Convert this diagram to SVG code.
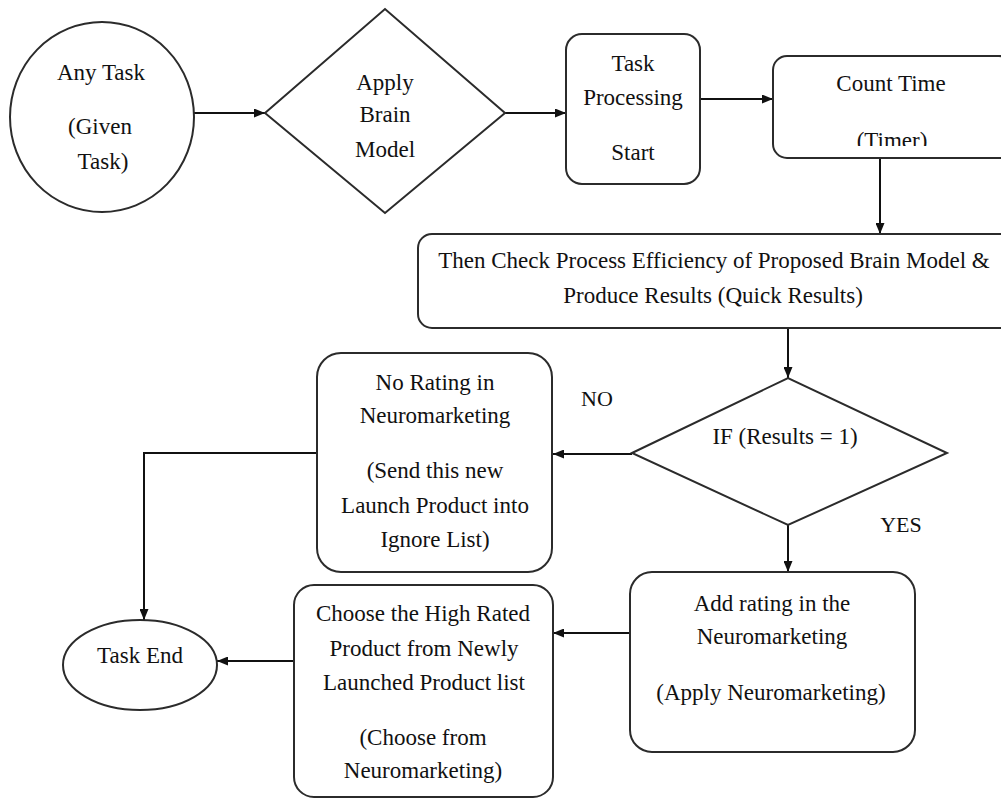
<svg xmlns="http://www.w3.org/2000/svg" width="1001" height="798" viewBox="0 0 1001 798">
<style>
  .shape { fill: #ffffff; stroke: #2b2b2b; stroke-width: 2; }
  .conn { fill: none; stroke: #111111; stroke-width: 2; }
  text { font-family: 'Liberation Serif', Tinos, 'Times New Roman', Times, 'DejaVu Serif', serif; font-size: 23px; fill: #111111; text-anchor: middle; }
  .lbl { font-size: 22px; }
</style>
<defs>
  <marker id="arrow" markerUnits="userSpaceOnUse" markerWidth="11" markerHeight="9" refX="11" refY="4.5" orient="auto">
    <path d="M0,0 L11,4.5 L0,9 z" fill="#111111"/>
  </marker>
  <clipPath id="timerClip"><rect x="773" y="0" width="240" height="146"/></clipPath>
</defs>
<rect width="1001" height="798" fill="#ffffff"/>

<g id="connectors">
  <path class="conn" d="M194,113 H265" marker-end="url(#arrow)"/>
  <path class="conn" d="M505,113 H566" marker-end="url(#arrow)"/>
  <path class="conn" d="M700,99 H773" marker-end="url(#arrow)"/>
  <path class="conn" d="M880,158 V234" marker-end="url(#arrow)"/>
  <path class="conn" d="M788,328 V378" marker-end="url(#arrow)"/>
  <path class="conn" d="M632,454 H553" marker-end="url(#arrow)"/>
  <path class="conn" d="M317,453 H144 V620" marker-end="url(#arrow)"/>
  <path class="conn" d="M788,525 V572" marker-end="url(#arrow)"/>
  <path class="conn" d="M630,633 H553" marker-end="url(#arrow)"/>
  <path class="conn" d="M294,661 H217" marker-end="url(#arrow)"/>
</g>

<g id="node-any-task">
  <ellipse class="shape" cx="102" cy="117" rx="92" ry="95"/>
  <text x="101" y="80">Any Task</text>
  <text x="100" y="134">(Given</text>
  <text x="103" y="169">Task)</text>
</g>

<g id="node-apply-brain-model">
  <polygon class="shape" points="265,113 385,9 505,113 385,213"/>
  <text x="385" y="90">Apply</text>
  <text x="385" y="122">Brain</text>
  <text x="385" y="157">Model</text>
</g>

<g id="node-task-processing">
  <rect class="shape" x="566" y="34" width="134" height="150" rx="16"/>
  <text x="633" y="71">Task</text>
  <text x="633" y="105">Processing</text>
  <text x="633" y="160">Start</text>
</g>

<g id="node-count-time">
  <rect class="shape" x="773" y="56" width="240" height="102" rx="14"/>
  <text x="891" y="91">Count Time</text>
  <text x="892" y="148" clip-path="url(#timerClip)">(Timer)</text>
</g>

<g id="node-check-efficiency">
  <rect class="shape" x="418" y="234" width="600" height="94" rx="14"/>
  <text x="714" y="268">Then Check Process Efficiency of Proposed Brain Model &amp;</text>
  <text x="713" y="303">Produce Results (Quick Results)</text>
</g>

<g id="node-if-results">
  <polygon class="shape" points="632,453 788,378 947,453 788,525"/>
  <text x="785" y="444">IF (Results = 1)</text>
</g>

<g id="label-no">
  <text class="lbl" x="597" y="406">NO</text>
</g>
<g id="label-yes">
  <text class="lbl" x="901" y="532">YES</text>
</g>

<g id="node-no-rating">
  <rect class="shape" x="317" y="353" width="235" height="219" rx="24"/>
  <text x="435" y="390">No Rating in</text>
  <text x="435" y="423">Neuromarketing</text>
  <text x="435" y="478">(Send this new</text>
  <text x="435" y="513">Launch Product into</text>
  <text x="435" y="547">Ignore List)</text>
</g>

<g id="node-add-rating">
  <rect class="shape" x="630" y="572" width="285" height="180" rx="22"/>
  <text x="772" y="611">Add rating in the</text>
  <text x="772" y="644">Neuromarketing</text>
  <text x="771" y="700">(Apply Neuromarketing)</text>
</g>

<g id="node-choose-high-rated">
  <rect class="shape" x="294" y="585" width="259" height="212" rx="20"/>
  <text x="423" y="621">Choose the High Rated</text>
  <text x="424" y="656">Product from Newly</text>
  <text x="424" y="690">Launched Product list</text>
  <text x="423" y="745">(Choose from</text>
  <text x="423" y="778">Neuromarketing)</text>
</g>

<g id="node-task-end">
  <ellipse class="shape" cx="140" cy="665" rx="77" ry="45"/>
  <text x="140" y="663">Task End</text>
</g>
</svg>
